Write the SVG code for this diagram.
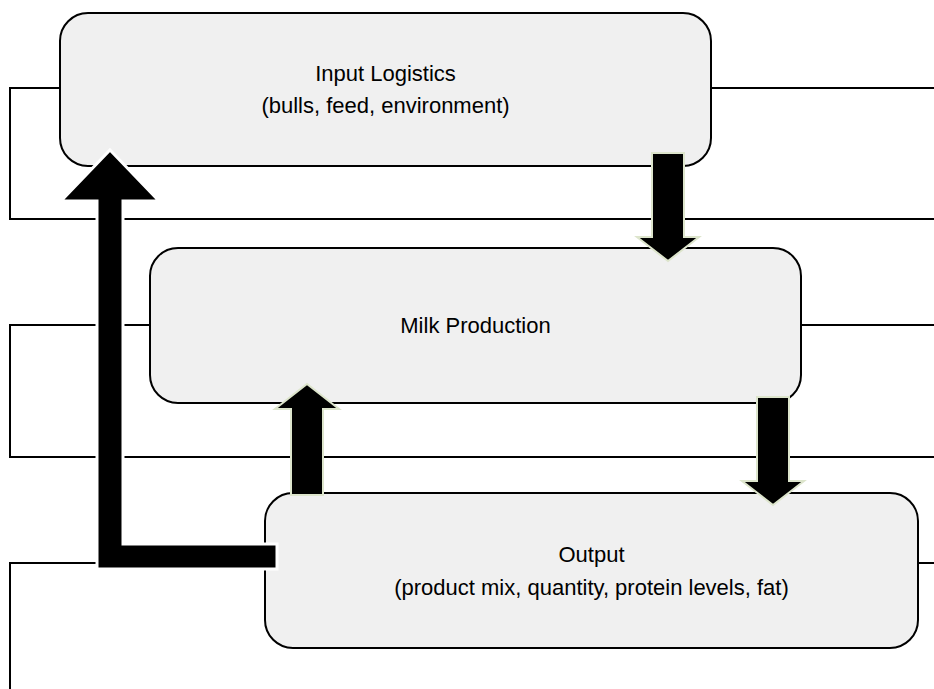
<svg xmlns="http://www.w3.org/2000/svg" width="934" height="689" viewBox="0 0 934 689">
  <style>
    .frame { fill: none; stroke: #000; stroke-width: 2; }
    .node rect { fill: #f0f0f0; stroke: #000; stroke-width: 2; }
    .node text { font-family: "Liberation Sans", Arial, sans-serif; font-size: 22px; fill: #000; text-anchor: middle; }
    .flow { fill: #000; stroke: #dde5cc; stroke-width: 2; stroke-linejoin: miter; }
    .loop { fill: #000; stroke: #fff; stroke-width: 3; stroke-linejoin: miter; }
  </style>
  <rect width="934" height="689" fill="#fff"/>

  <!-- layer brackets -->
  <g id="brackets">
    <path class="frame" d="M60 88 H10 V219 H934 M711 88 H934"/>
    <path class="frame" d="M150 325 H10 V457 H934 M801 325 H934"/>
    <path class="frame" d="M265 563 H10 V689 M918 563 H934"/>
  </g>

  <g id="input-logistics" class="node">
    <rect x="60" y="13" width="651" height="153" rx="28" ry="28"/>
    <text x="385.5" y="81">Input Logistics</text>
    <text x="385.5" y="113">(bulls, feed, environment)</text>
  </g>

  <g id="milk-production" class="node">
    <rect x="150" y="248" width="651" height="155" rx="28" ry="28"/>
    <text x="475.5" y="333">Milk Production</text>
  </g>

  <g id="output" class="node">
    <rect x="265" y="493" width="653" height="155" rx="28" ry="28"/>
    <text x="591.5" y="562">Output</text>
    <text x="591.5" y="595">(product mix, quantity, protein levels, fat)</text>
  </g>

  <!-- block arrows between stages -->
  <g id="connectors">
    <polygon class="flow" points="652,153 684,153 684,237 699,237 668,261 637,237 652,237"/>
    <polygon class="flow" points="757,397 789,397 789,481 804,481 773,505 742,481 757,481"/>
    <polygon class="flow" points="291,495 323,495 323,409 339,409 307,384 275,409 291,409"/>
    <polygon class="loop" points="110,150 159,201 123,201 123,544 277,544 277,569 97,569 97,201 61,201"/>
  </g>
</svg>
